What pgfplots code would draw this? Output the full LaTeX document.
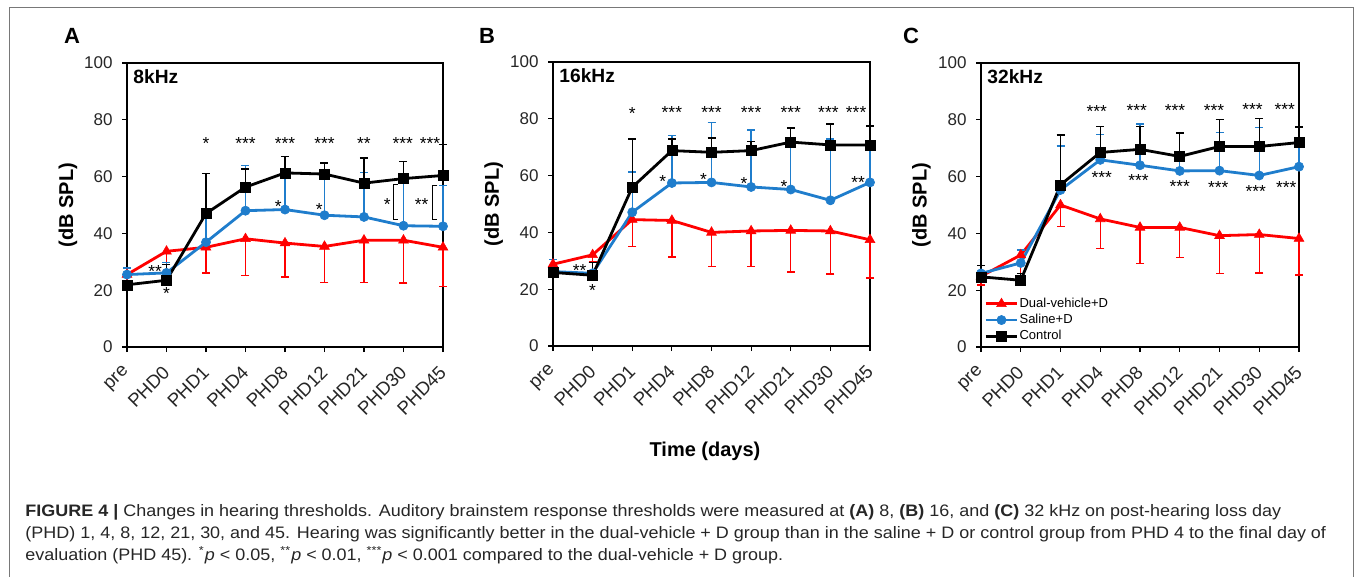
\documentclass[border=0pt]{standalone}
\usepackage{fontspec}
\setmainfont{Liberation Sans}
\usepackage{pgfplots}
\pgfplotsset{compat=1.18}

\definecolor{dvred}{RGB}{255,0,0}
\definecolor{salblue}{RGB}{31,125,204}
\definecolor{framegray}{RGB}{120,120,120}

% 1 px of the reference = 0.5pt
\pgfplotsset{
  abr/.style={
    scale only axis, width=158pt, height=142pt,
    xmin=0, xmax=8, ymin=0, ymax=100,
    xtick={0,...,8},
    xticklabels={pre,PHD0,PHD1,PHD4,PHD8,PHD12,PHD21,PHD30,PHD45},
    ytick={0,20,...,100},
    xtick pos=lower, ytick pos=left,
    tick align=outside,
    major tick length=2.5pt,
    tick style={black, line width=0.6pt},
    axis line style={black, line width=0.8pt},
    ticklabel style={font=\fontsize{8.5}{10}\selectfont, text=black!85},
    /pgf/number format/assume math mode=true,
    xticklabel style={rotate=45, anchor=east, inner sep=0pt,
      font=\fontsize{9.3}{11}\selectfont},
    yticklabel style={inner sep=0pt},
    xticklabel shift=8.5pt, yticklabel shift=4.5pt,
    ylabel={(dB SPL)},
    ylabel style={font=\bfseries\fontsize{10}{12}\selectfont,
      at={(axis description cs:-0.187,0.5)}, anchor=center},
    clip=false,
  },
  ebar/.style={
    error bars/y explicit,
    error bars/error bar style={line width=0.7pt},
    error bars/error mark options={rotate=90, line width=0.7pt, mark size=2pt}},
  dv/.style={dvred, line width=1.4pt, mark=triangle*, mark size=2.8pt,
    mark options={line width=0.3pt}, ebar, error bars/y dir=minus},
  sal/.style={salblue, line width=1.4pt, mark=*, mark size=2.3pt,
    mark options={line width=0.3pt}, ebar, error bars/y dir=plus},
  ctl/.style={black, line width=1.4pt, mark=square*, mark size=2.5pt,
    mark options={line width=0.3pt}, ebar, error bars/y dir=plus},
}
\tikzset{
  sig/.style={font=\fontsize{8.7}{10}\selectfont, anchor=base, inner sep=0pt},
  khz/.style={font=\bfseries\fontsize{9.6}{11}\selectfont, anchor=west, inner sep=0pt},
}

\begin{document}
\begin{tikzpicture}
\useasboundingbox (0,0) rectangle (677.5pt,-288.5pt);
\draw[framegray, line width=0.5pt] (4.5pt,-288.5pt) -- (4.5pt,-4pt) -- (676.5pt,-4pt) -- (676.5pt,-288.5pt);

% ---------------- A: 8 kHz ----------------
\begin{axis}[abr, at={(63.5pt,-173.5pt)}, anchor=south west]
\addplot[dv] table[x=x, y=y, y error=e] {
x y e
0 25.5 5.0
1 33.7 4.7
2 35.1 9.0
3 38.1 12.9
4 36.6 12.0
5 35.4 12.6
6 37.6 14.8
7 37.6 15.1
8 35.1 13.7
};
\addplot[sal] table[x=x, y=y, y error=e] {
x y e
0 25.5 2.3
1 26.1 3.7
2 36.9 11.7
3 48.0 16.0
4 48.4 13.6
5 46.4 18.2
6 45.8 15.7
7 42.7 17.0
8 42.5 14.3
};
\addplot[ctl] table[x=x, y=y, y error=e] {
x y e
0 21.9 1.5
1 23.5 5.5
2 47.0 14.0
3 56.3 6.4
4 61.3 5.8
5 60.9 3.9
6 57.7 8.8
7 59.3 6.1
8 60.4 10.8
};
\node[khz] at (axis description cs:0.019,0.951) {8kHz};
\node[sig] at (axis cs:2,69.4) {*};
\node[sig] at (axis cs:3,69.6) {***};
\node[sig] at (axis cs:4,69.6) {***};
\node[sig] at (axis cs:5,69.6) {***};
\node[sig] at (axis cs:6,69.6) {**};
\node[sig] at (axis cs:6.98,69.6) {***};
\node[sig] at (axis cs:7.67,69.6) {***};
\node[sig] at (axis cs:3.83,47.5) {*};
\node[sig] at (axis cs:4.87,46.4) {*};
\node[sig] at (axis cs:6.59,48.1) {*};
\node[sig] at (axis cs:7.46,48.1) {**};
\node[sig] at (axis cs:0.71,24.4) {**};
\node[sig] at (axis cs:1.0,16.6) {*};
\draw[black, line width=0.6pt] (axis cs:6.86,57.2) -- (axis cs:6.74,57.2) -- (axis cs:6.74,44.8) -- (axis cs:6.86,44.8);
\draw[black, line width=0.6pt] (axis cs:7.86,56.9) -- (axis cs:7.74,56.9) -- (axis cs:7.74,44.8) -- (axis cs:7.86,44.8);
\end{axis}

% ---------------- B: 16 kHz ----------------
\begin{axis}[abr, at={(276.5pt,-173pt)}, anchor=south west, width=158.5pt]
\addplot[dv] table[x=x, y=y, y error=e] {
x y e
0 28.8 2.0
1 32.1 2.5
2 44.5 9.4
3 44.2 12.9
4 40.0 12.0
5 40.5 12.5
6 40.7 14.7
7 40.5 15.1
8 37.4 13.5
};
\addplot[sal] table[x=x, y=y, y error=e] {
x y e
0 26.2 4.2
1 25.6 3.8
2 47.1 14.1
3 57.4 16.7
4 57.6 21.2
5 56.0 20.0
6 55.1 18.2
7 51.3 21.6
8 57.6 13.0
};
\addplot[ctl] table[x=x, y=y, y error=e] {
x y e
0 25.9 1.0
1 24.9 4.6
2 55.9 17.0
3 68.8 4.1
4 68.2 5.0
5 68.8 3.2
6 71.8 4.9
7 70.8 7.4
8 70.8 6.6
};
\node[khz] at (axis description cs:0.019,0.951) {16kHz};
\node[sig] at (axis cs:2,79.6) {*};
\node[sig] at (axis cs:3,80) {***};
\node[sig] at (axis cs:4,80) {***};
\node[sig] at (axis cs:5,80) {***};
\node[sig] at (axis cs:6,80) {***};
\node[sig] at (axis cs:6.95,80) {***};
\node[sig] at (axis cs:7.65,80) {***};
\node[sig] at (axis cs:2.77,55.8) {*};
\node[sig] at (axis cs:3.8,56.4) {*};
\node[sig] at (axis cs:4.82,55.2) {*};
\node[sig] at (axis cs:5.83,54) {*};
\node[sig] at (axis cs:7.7,55.4) {**};
\node[sig] at (axis cs:0.67,24.6) {**};
\node[sig] at (axis cs:1.0,17.5) {*};
\end{axis}

% ---------------- C: 32 kHz ----------------
\begin{axis}[abr, at={(490.5pt,-173.5pt)}, anchor=south west, width=159pt,
  legend style={at={(axis description cs:0.01,0.01)}, anchor=south west,
    draw=none, fill=none, font=\fontsize{6.5}{7.5}\selectfont,
    inner sep=0pt, row sep=0.6pt, cells={anchor=west},
    nodes={inner sep=0.6pt, text height=5pt, text depth=1.3pt}},
  legend image code/.code={\draw[mark repeat=2, mark phase=2]
    plot coordinates {(0pt,0pt) (7.75pt,0pt) (15.5pt,0pt)};}]
\addplot[dv] table[x=x, y=y, y error=e] {
x y e
0 24.9 3.0
1 32.4 6.5
2 50.0 7.6
3 45.1 10.4
4 42.1 12.7
5 42.1 10.6
6 39.2 13.3
7 39.6 13.5
8 38.2 12.9
};
\addlegendentry{Dual-vehicle+D}
\addplot[sal] table[x=x, y=y, y error=e] {
x y e
0 25.9 2.9
1 29.6 4.5
2 55.3 15.5
3 65.9 9.0
4 64.0 14.5
5 62.0 3.3
6 62.1 13.4
7 60.4 16.9
8 63.5 13.8
};
\addlegendentry{Saline+D}
\addplot[ctl] table[x=x, y=y, y error=e] {
x y e
0 24.7 4.1
1 23.5 2.4
2 57.1 17.6
3 68.5 9.1
4 69.6 8.0
5 67.1 8.2
6 70.6 9.6
7 70.6 9.9
8 72.0 5.4
};
\addlegendentry{Control}
\node[khz] at (axis description cs:0.019,0.951) {32kHz};
\node[sig] at (axis cs:2.91,80.7) {***};
\node[sig] at (axis cs:3.92,81.1) {***};
\node[sig] at (axis cs:4.88,81.3) {***};
\node[sig] at (axis cs:5.86,81.3) {***};
\node[sig] at (axis cs:6.83,81.5) {***};
\node[sig] at (axis cs:7.64,81.5) {***};
\node[sig] at (axis cs:3.04,57.5) {***};
\node[sig] at (axis cs:3.96,56.4) {***};
\node[sig] at (axis cs:5.0,54.5) {***};
\node[sig] at (axis cs:5.97,53.9) {***};
\node[sig] at (axis cs:6.91,52.5) {***};
\node[sig] at (axis cs:7.68,53.9) {***};
\end{axis}

% panel letters, shared x label, caption
\node[font=\bfseries\fontsize{11}{13}\selectfont] at (36pt,-18pt) {A};
\node[font=\bfseries\fontsize{11}{13}\selectfont] at (243.5pt,-18pt) {B};
\node[font=\bfseries\fontsize{11}{13}\selectfont] at (455.5pt,-18pt) {C};
\node[font=\bfseries\fontsize{10}{12}\selectfont] at (352.5pt,-225.5pt) {Time (days)};

\begin{scope}[every node/.style={anchor=base west, inner sep=0pt, text=black!85, font=\fontsize{8.3}{10}\selectfont}]
\node at (12.5pt,-258pt) {\scalebox{1.083}[1]{\textbf{FIGURE 4 |} Changes in hearing thresholds. Auditory brainstem response thresholds were measured at \textbf{(A)} 8, \textbf{(B)} 16, and \textbf{(C)} 32 kHz on post-hearing loss day}};
\node at (12.5pt,-269.25pt) {\scalebox{1.083}[1]{(PHD) 1, 4, 8, 12, 21, 30, and 45. Hearing was significantly better in the dual-vehicle + D group than in the saline + D or control group from PHD 4 to the final day of}};
\node at (12.5pt,-280pt) {\scalebox{1.083}[1]{evaluation (PHD 45). \textsuperscript{*}\textit{p} < 0.05, \textsuperscript{**}\textit{p} < 0.01, \textsuperscript{***}\textit{p} < 0.001 compared to the dual-vehicle + D group.}};
\end{scope}
\end{tikzpicture}
\end{document}
